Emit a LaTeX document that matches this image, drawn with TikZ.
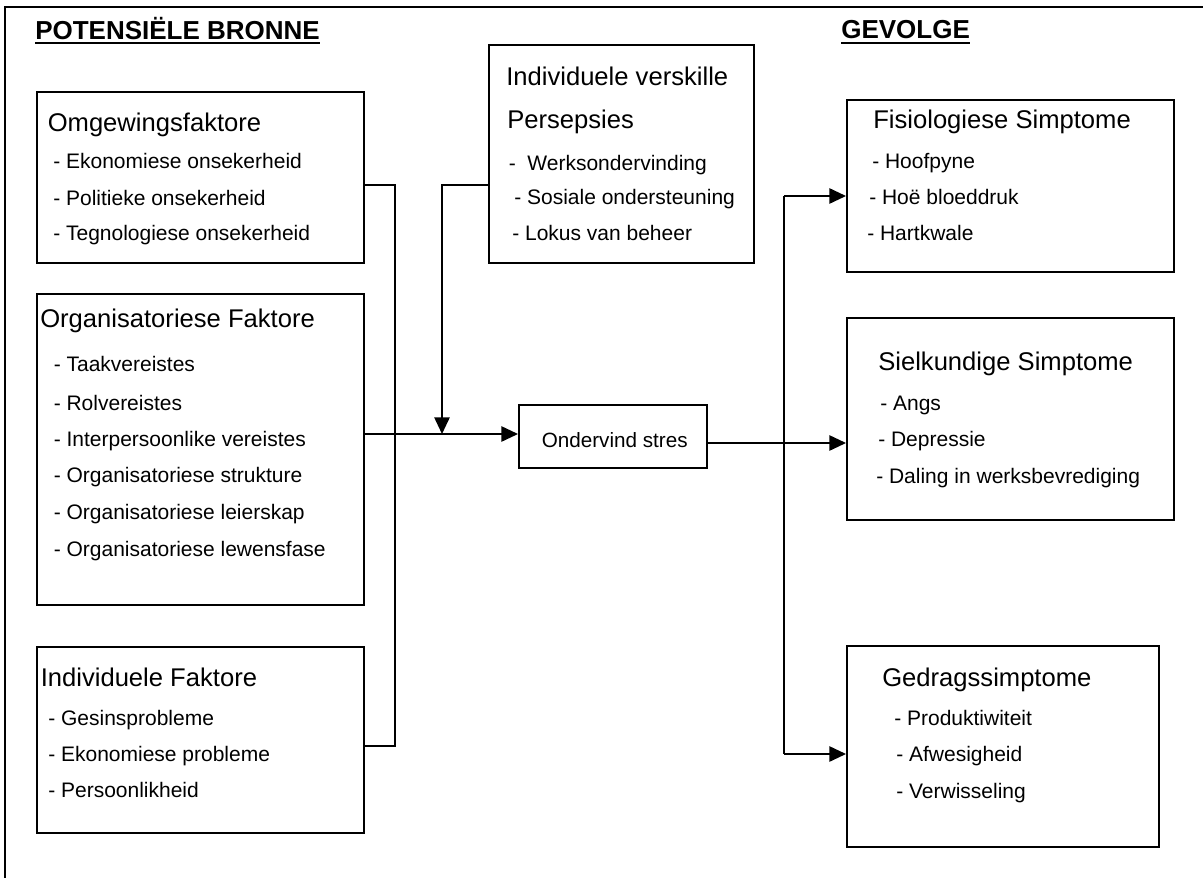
\documentclass[tikz,border=0pt]{standalone}
\usepackage{fontspec}
\setmainfont{Liberation Sans}
\usetikzlibrary{arrows.meta}
\begin{document}
\begin{tikzpicture}[x=0.75pt,y=-0.75pt,
  box/.style={draw, line width=1.5pt, inner sep=0pt, rectangle},
  lbl/.style={anchor=base west, inner sep=0pt, font=\fontsize{15.75pt}{18pt}\selectfont},
  hdr/.style={anchor=base west, inner sep=0pt, font=\fontsize{19.2pt}{22pt}\selectfont},
  ttl/.style={anchor=base west, inner sep=0pt, font=\bfseries\fontsize{19.5pt}{22pt}\selectfont},
  link/.style={line width=1.3pt},
  arr/.style={link, -{Triangle[length=12.5pt,width=11.5pt]}},
  frame/.style={line width=2pt},
  uline/.style={line width=1.4pt}
]
\useasboundingbox (0,0) rectangle (1203,878);

% outer frame (top and left edges)
\draw[frame] (5,878) -- (5,7) -- (1203,7);

% section titles
\node[ttl] (tsrc) at (35,39) {POTENSIËLE BRONNE};
\node[ttl] (tres) at (841,38.5) {GEVOLGE};
\draw[uline] ([yshift=-3.3pt]tsrc.base west) -- ([yshift=-3.3pt]tsrc.base east);
\draw[uline] ([yshift=-3.3pt]tres.base west) -- ([yshift=-3.3pt]tres.base east);

% source boxes
\node[box, minimum width=245.25pt, minimum height=128.25pt] (omg) at (200.5,177.5) {};
\node[box, minimum width=245.25pt, minimum height=233.25pt] (org) at (200.5,449.5) {};
\node[box, minimum width=245.25pt, minimum height=139.5pt] (indf) at (200.5,740) {};

% moderator and central boxes
\node[box, minimum width=198.75pt, minimum height=163.5pt] (iv) at (621.5,154) {};
\node[box, minimum width=141pt, minimum height=47.25pt] (ond) at (613,436.5) {};

% consequence boxes
\node[box, minimum width=245.25pt, minimum height=129pt] (fis) at (1010.5,186) {};
\node[box, minimum width=245.25pt, minimum height=151.5pt] (siel) at (1010.5,419) {};
\node[box, minimum width=234pt, minimum height=150.75pt] (ged) at (1003,746.5) {};

% texts: environmental factors
\node[hdr] (omgh) at (47.5,131) {Omgewingsfaktore};
\node[lbl] (omg1) at (53,168) {- Ekonomiese onsekerheid};
\node[lbl] (omg2) at (53,205) {- Politieke onsekerheid};
\node[lbl] (omg3) at (53,240) {- Tegnologiese onsekerheid};

% texts: organisational factors
\node[hdr] (orgh) at (40,327) {Organisatoriese Faktore};
\node[lbl] (org1) at (53.5,371) {- Taakvereistes};
\node[lbl] (org2) at (53.5,410.5) {- Rolvereistes};
\node[lbl] (org3) at (53.5,446.5) {- Interpersoonlike vereistes};
\node[lbl] (org4) at (53.5,482.5) {- Organisatoriese strukture};
\node[lbl] (org5) at (53.5,519) {- Organisatoriese leierskap};
\node[lbl] (org6) at (53.5,556) {- Organisatoriese lewensfase};

% texts: individual factors
\node[hdr] (indh) at (40.5,686) {Individuele Faktore};
\node[lbl] (ind1) at (48,725) {- Gesinsprobleme};
\node[lbl] (ind2) at (48,761.5) {- Ekonomiese probleme};
\node[lbl] (ind3) at (48,797.5) {- Persoonlikheid};

% texts: individual differences
\node[hdr] (ivh) at (506,85) {Individuele verskille};
\node[hdr] (ivp) at (507,128) {Persepsies};
\node[lbl] (iv1) at (508.5,170) {- \ Werksondervinding};
\node[lbl] (iv2) at (514,204) {- Sosiale ondersteuning};
\node[lbl] (iv3) at (512,240.5) {- Lokus van beheer};

% texts: central box
\node[lbl, font=\fontsize{15.5pt}{18pt}\selectfont] (ondt) at (541.5,447) {Ondervind stres};

% texts: physiological symptoms
\node[hdr] (fish) at (873,128.5) {Fisiologiese Simptome};
\node[lbl] (fis1) at (872,168) {- Hoofpyne};
\node[lbl] (fis2) at (869,204) {- Hoë bloeddruk};
\node[lbl] (fis3) at (867,240) {- Hartkwale};

% texts: psychological symptoms
\node[hdr] (sielh) at (878,370.5) {Sielkundige Simptome};
\node[lbl] (siel1) at (880,410.5) {- Angs};
\node[lbl] (siel2) at (878,446.5) {- Depressie};
\node[lbl] (siel3) at (876,483) {- Daling in werksbevrediging};

% texts: behavioural symptoms
\node[hdr] (gedh) at (882,686) {Gedragssimptome};
\node[lbl] (ged1) at (894,725) {- Produktiwiteit};
\node[lbl] (ged2) at (896,761.5) {- Afwesigheid};
\node[lbl] (ged3) at (896,798) {- Verwisseling};

% routing points
\coordinate (jtop) at (395,185);
\coordinate (jbot) at (395,746);
\coordinate (jin) at (395,434);
\coordinate (mtop) at (442,185);
\coordinate (mbot) at (442,434);
\coordinate (out) at (784,443);
\coordinate (otop) at (784,196);
\coordinate (obot) at (784,754);

% source connectors
\draw[link] (omg.east |- jtop) -- (jtop) -- (jbot) -- (indf.east |- jbot);
\draw[arr] (org.east |- jin) -- (ond.west |- jin);

% moderator connector
\draw[arr] (iv.west |- mtop) -- (mtop) -- (mbot);

% consequence connectors
\draw[arr] (ond.east |- out) -- (siel.west |- out);
\draw[arr] (otop) -- (fis.west |- otop);
\draw[link] (otop) -- (obot);
\draw[arr] (obot) -- (ged.west |- obot);
\end{tikzpicture}
\end{document}
